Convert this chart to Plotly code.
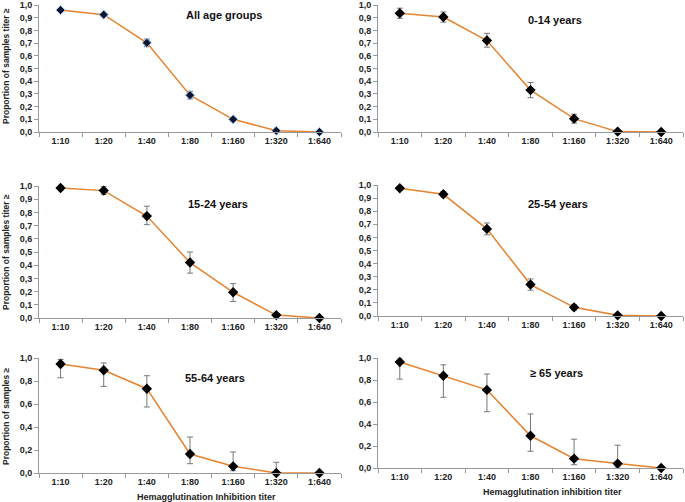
import plotly.graph_objects as go

# Data
titers = ['1:10', '1:20', '1:40', '1:80', '1:160', '1:320', '1:640']

groups = ['All age groups', '0-14 years', '15-24 years', '25-54 years', '55-64 years', '≥ 65 years']

all_ages = [0.96, 0.924, 0.702, 0.29, 0.10, 0.01, 0.0]
all_ages_up = [0.01, 0.01, 0.03, 0.03, 0.015, 0.005, 0.0]
all_ages_dn = [0.01, 0.01, 0.03, 0.03, 0.015, 0.005, 0.0]

age_0_14 = [0.935, 0.905, 0.72, 0.33, 0.105, 0.003, 0.0]
age_0_14_up = [0.04, 0.04, 0.057, 0.06, 0.035, 0.0, 0.0]
age_0_14_dn = [0.04, 0.04, 0.052, 0.06, 0.035, 0.0, 0.0]

age_15_24 = [0.985, 0.965, 0.772, 0.42, 0.195, 0.022, 0.0]
age_15_24_up = [0.01, 0.03, 0.075, 0.08, 0.065, 0.01, 0.0]
age_15_24_dn = [0.01, 0.03, 0.065, 0.08, 0.07, 0.01, 0.0]

age_25_54 = [0.975, 0.929, 0.665, 0.24, 0.066, 0.005, 0.0]
age_25_54_up = [0.01, 0.02, 0.045, 0.043, 0.02, 0.003, 0.0]
age_25_54_dn = [0.01, 0.02, 0.045, 0.043, 0.02, 0.003, 0.0]

age_55_64 = [0.948, 0.893, 0.733, 0.165, 0.058, 0.0, 0.0]
age_55_64_up = [0.04, 0.064, 0.113, 0.148, 0.125, 0.093, 0.0]
age_55_64_dn = [0.12, 0.14, 0.159, 0.084, 0.038, 0.0, 0.0]

age_65 = [0.963, 0.838, 0.71, 0.293, 0.085, 0.04, 0.0]
age_65_up = [0.037, 0.10, 0.144, 0.198, 0.177, 0.167, 0.0]
age_65_dn = [0.155, 0.195, 0.198, 0.141, 0.055, 0.031, 0.0]

series = [
    (all_ages, all_ages_up, all_ages_dn),
    (age_0_14, age_0_14_up, age_0_14_dn),
    (age_15_24, age_15_24_up, age_15_24_dn),
    (age_25_54, age_25_54_up, age_25_54_dn),
    (age_55_64, age_55_64_up, age_55_64_dn),
    (age_65, age_65_up, age_65_dn),
]

W, H = 685, 502

def px_x(v):
    return v / W

def px_y(v):
    return 1 - v / H

# panel geometry in pixels: (left, right, y of 0, y of 1.0)
panels = [
    (39, 341, 132, 5),
    (378, 683, 132, 5),
    (39, 341, 318, 186),
    (378, 683, 316, 185),
    (39, 341, 473, 358),
    (378, 683, 468, 358),
]

title_pos = [(224, 15), (555, 20), (218, 204), (558, 204), (215, 378), (556, 373)]

fig = go.Figure()
bold = dict(family='Liberation Sans, Arial', size=9, color='#222', weight='bold')

for i, ((y, up, dn), (l, r, y0, y1)) in enumerate(zip(series, panels)):
    n = '' if i == 0 else str(i + 1)
    first = i == 0
    fig.add_trace(go.Scatter(
        x=titers, y=y, mode='lines+markers',
        xaxis='x' + n, yaxis='y' + n,
        line=dict(color='#E5832F', width=1.5),
        marker=dict(symbol='diamond', size=8 if not first else 7,
                    color='#0b1530' if first else '#000',
                    line=dict(color='#9cc0ea' if first else '#000', width=1 if first else 0)),
        error_y=dict(type='data', symmetric=False, array=up, arrayminus=dn,
                     color='#5a7fb0' if first else '#777', thickness=1, width=3),
        cliponaxis=False, showlegend=False,
    ))
    fig.layout['xaxis' + n] = dict(
        domain=[px_x(l), px_x(r)], anchor='y' + n, type='category', automargin=False,
        range=[-0.5, 6.5], tickson='boundaries', ticks='outside', ticklen=4,
        tickcolor='#999', showline=True, linecolor='#999', linewidth=1,
        showgrid=False, zeroline=False, tickfont=bold,
    )
    fig.layout['yaxis' + n] = dict(
        domain=[px_y(y0), px_y(y1)], anchor='x' + n, range=[0, 1.0], automargin=False,
        dtick=0.2 if i >= 4 else 0.1, tickformat='.1f', ticks='outside', ticklen=4,
        tickcolor='#999', showline=True, linecolor='#999', linewidth=1,
        showgrid=False, zeroline=False, tickfont=bold,
    )
    tx, ty = title_pos[i]
    fig.add_annotation(text=groups[i], x=px_x(tx), y=px_y(ty), xref='paper', yref='paper',
                       xanchor='center', yanchor='middle', showarrow=False,
                       font=dict(family='Liberation Sans, Arial', size=11, color='#111',
                                 weight='bold'))

# y axis titles
ytitle_font = dict(bold, size=8.5)
for txt, yc in [('Proportion of samples titer ≥', 66), ('Proportion of samples titer ≥', 252),
                ('Proportion of samples ≥', 416)]:
    fig.add_annotation(text=txt, x=px_x(6), y=px_y(yc), xref='paper', yref='paper',
                       xanchor='center', yanchor='middle', textangle=-90,
                       showarrow=False, font=ytitle_font)

# x axis titles
fig.add_annotation(text='Hemagglutination Inhibition titer', x=px_x(206), y=px_y(497),
                   xref='paper', yref='paper', xanchor='center', yanchor='middle',
                   showarrow=False, font=bold)
fig.add_annotation(text='Hemagglutination inhibition titer', x=px_x(552), y=px_y(492),
                   xref='paper', yref='paper', xanchor='center', yanchor='middle',
                   showarrow=False, font=bold)

fig.update_layout(
    width=W, height=H, margin=dict(l=0, r=0, t=0, b=0),
    paper_bgcolor='white', plot_bgcolor='white', separators=', ',
)

# the page body keeps its default 8px margin otherwise
fig.write_html('out.html', config={'displayModeBar': False},
               post_script="document.body.style.margin='0';")
